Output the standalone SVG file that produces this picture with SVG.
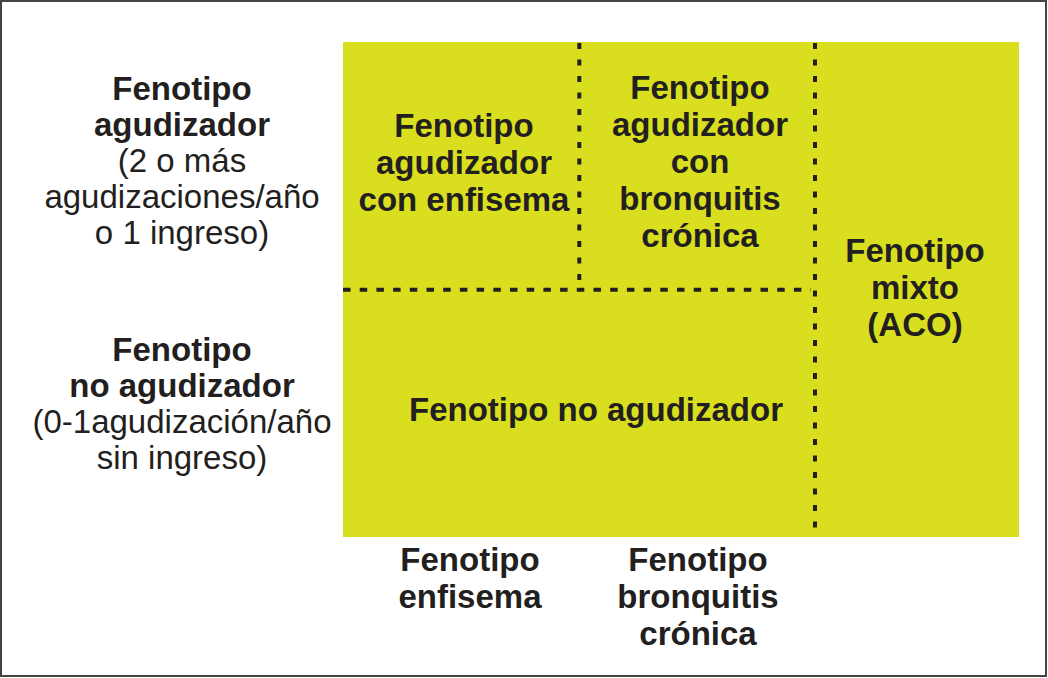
<svg xmlns="http://www.w3.org/2000/svg" width="1048" height="678" viewBox="0 0 1048 678">
<style>
  .t{font-family:"Liberation Sans",Arial,Helvetica,sans-serif;font-size:33px;fill:#231f20;text-anchor:middle}
  .b{font-weight:bold}
  .dash{stroke:#231f20;stroke-width:4;fill:none}
  .h{stroke-dasharray:7.5 9.2}
  .v{stroke-dasharray:6 10.5}
</style>
<rect x="0" y="0" width="1048" height="678" fill="#ffffff"/>
<rect x="1" y="1" width="1045" height="675" fill="none" stroke="#444444" stroke-width="2"/>
<g id="panel">
  <rect x="343" y="42" width="676" height="495" fill="#d9df1f"/>
</g>
<g id="connectors">
  <line class="dash v" x1="579.3" y1="43" x2="579.3" y2="281"/>
  <line class="dash h" x1="343" y1="289.7" x2="811" y2="289.7"/>
  <line class="dash v" x1="815" y1="43" x2="815" y2="537"/>
</g>
<g id="row-agudizador">
  <text class="t" x="182" y="100"><tspan class="b">Fenotipo</tspan><tspan class="b" x="182" dy="36">agudizador</tspan><tspan x="182" dy="36">(2 o más</tspan><tspan x="182" dy="36">agudizaciones/año</tspan><tspan x="182" dy="36">o 1 ingreso)</tspan></text>
</g>
<g id="row-no-agudizador">
  <text class="t" x="182" y="361"><tspan class="b">Fenotipo</tspan><tspan class="b" x="182" dy="36">no agudizador</tspan><tspan x="182" dy="36">(0-1agudización/año</tspan><tspan x="182" dy="36">sin ingreso)</tspan></text>
</g>
<g id="cell-agudizador-enfisema">
  <text class="t b" x="464" y="137">Fenotipo<tspan x="464" dy="37">agudizador</tspan><tspan x="464" dy="37">con enfisema</tspan></text>
</g>
<g id="cell-agudizador-bronquitis">
  <text class="t b" x="700" y="99">Fenotipo<tspan x="700" dy="37">agudizador</tspan><tspan x="700" dy="37">con</tspan><tspan x="700" dy="37">bronquitis</tspan><tspan x="700" dy="37">crónica</tspan></text>
</g>
<g id="cell-mixto">
  <text class="t b" x="915" y="262">Fenotipo<tspan x="915" dy="37">mixto</tspan><tspan x="915" dy="37">(ACO)</tspan></text>
</g>
<g id="cell-no-agudizador">
  <text class="t b" x="596" y="421">Fenotipo no agudizador</text>
</g>
<g id="col-enfisema">
  <text class="t b" x="470" y="571">Fenotipo<tspan x="470" dy="37">enfisema</tspan></text>
</g>
<g id="col-bronquitis">
  <text class="t b" x="698" y="571">Fenotipo<tspan x="698" dy="37">bronquitis</tspan><tspan x="698" dy="37">crónica</tspan></text>
</g>
</svg>
